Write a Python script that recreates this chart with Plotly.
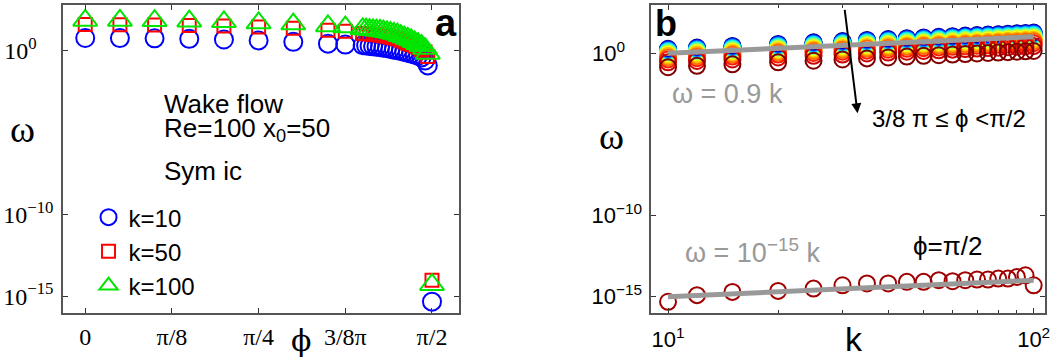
import numpy as np
import plotly.graph_objects as go

# ---------------- data: panel a (omega vs phi) ----------------
phi_a_frac = [0, 0.05, 0.10, 0.15, 0.20, 0.25, 0.30, 0.35, 0.375,
              0.400, 0.405, 0.410, 0.415, 0.420, 0.425, 0.430, 0.435, 0.440, 0.445,
              0.450, 0.455, 0.460, 0.465, 0.470, 0.475, 0.480, 0.485, 0.490, 0.494,
              0.5]
omega_a_k10 = [6.2, 6.1, 5.9, 5.5, 5.0, 4.4, 3.6, 2.8, 2.45,
               2.24, 2.14, 2.04, 1.91, 1.82, 1.70, 1.58, 1.45, 1.32, 1.20,
               1.10, 0.98, 0.87, 0.78, 0.69, 0.60, 0.51, 0.40, 0.26, 0.13,
               4.6e-16]
omega_a_k50 = [41, 40, 39, 36, 33, 29, 24, 18.6, 16.2,
               11.7, 11.2, 10.7, 10.2, 9.8, 9.3, 8.5, 7.8, 6.9, 6.2,
               5.5, 4.5, 3.7, 3.0, 2.5, 2.0, 1.6, 1.23, 0.85, 0.45,
               9.4e-15]
omega_a_k100 = [74, 73, 71, 66, 60, 52, 44, 34, 29,
                22.4, 21.4, 20.4, 19.5, 18.6, 17.8, 16.2, 14.8, 13.2, 11.7,
                10.5, 8.5, 7.1, 5.8, 4.7, 3.6, 2.8, 2.1, 1.4, 0.7,
                5.0e-15]
legend_names = ["k=10", "k=50", "k=100"]
phi_tick_frac = [0, 0.125, 0.25, 0.375, 0.5]
phi_tick_text = ["0", "π/8", "π/4", "3/8π", "π/2"]

# ---------------- data: panel b (omega vs k) ----------------
k_b = [10, 12, 15, 20, 25, 30, 35, 40, 45, 50, 55, 60, 65, 70, 75, 80, 85, 90, 95, 100]
# one row per phi in [3/8 pi, pi/2), from phi = 3/8 pi (top) downwards
omega_b_rows = [
    [1.91, 2.30, 2.87, 3.83, 4.79, 5.74, 6.70, 7.66, 8.61, 9.57, 10.5, 11.5, 12.4, 13.4, 14.4, 15.3, 16.3, 17.2, 18.2, 19.1],
    [1.78, 2.14, 2.67, 3.57, 4.46, 5.35, 6.24, 7.13, 8.02, 8.92, 9.81, 10.7, 11.6, 12.5, 13.4, 14.3, 15.2, 16.0, 16.9, 17.8],
    [1.65, 1.98, 2.48, 3.30, 4.13, 4.96, 5.78, 6.61, 7.43, 8.26, 9.09, 9.91, 10.7, 11.6, 12.4, 13.2, 14.0, 14.9, 15.7, 16.5],
    [1.52, 1.82, 2.28, 3.04, 3.80, 4.56, 5.32, 6.08, 6.84, 7.60, 8.35, 9.11, 9.87, 10.6, 11.4, 12.2, 12.9, 13.7, 14.4, 15.2],
    [1.39, 1.66, 2.08, 2.77, 3.46, 4.16, 4.85, 5.54, 6.23, 6.93, 7.62, 8.31, 9.00, 9.70, 10.4, 11.1, 11.8, 12.5, 13.2, 13.9],
    [1.25, 1.50, 1.87, 2.50, 3.12, 3.75, 4.37, 5.00, 5.62, 6.25, 6.87, 7.49, 8.12, 8.74, 9.37, 9.99, 10.6, 11.2, 11.9, 12.5],
    [1.11, 1.34, 1.67, 2.23, 2.78, 3.34, 3.90, 4.45, 5.01, 5.57, 6.12, 6.68, 7.23, 7.79, 8.35, 8.90, 9.46, 10.0, 10.6, 11.1],
    [0.98, 1.17, 1.46, 1.95, 2.44, 2.93, 3.42, 3.90, 4.39, 4.88, 5.37, 5.86, 6.34, 6.83, 7.32, 7.81, 8.30, 8.78, 9.27, 9.76],
    [0.84, 1.01, 1.26, 1.68, 2.10, 2.51, 2.93, 3.35, 3.77, 4.19, 4.61, 5.03, 5.45, 5.87, 6.29, 6.70, 7.12, 7.54, 7.96, 8.38],
    [0.70, 0.84, 1.05, 1.40, 1.75, 2.10, 2.45, 2.80, 3.15, 3.50, 3.84, 4.19, 4.54, 4.89, 5.24, 5.59, 5.94, 6.29, 6.64, 6.99],
    [0.56, 0.67, 0.84, 1.12, 1.40, 1.68, 1.96, 2.24, 2.52, 2.80, 3.08, 3.36, 3.64, 3.92, 4.20, 4.48, 4.76, 5.04, 5.32, 5.60],
    [0.42, 0.50, 0.63, 0.84, 1.05, 1.26, 1.47, 1.68, 1.89, 2.10, 2.31, 2.52, 2.73, 2.94, 3.15, 3.36, 3.57, 3.78, 3.99, 4.20],
    [0.28, 0.34, 0.42, 0.56, 0.70, 0.84, 0.98, 1.12, 1.26, 1.41, 1.55, 1.69, 1.83, 1.97, 2.11, 2.25, 2.39, 2.53, 2.67, 2.81],
    [0.14, 0.17, 0.21, 0.28, 0.35, 0.42, 0.49, 0.56, 0.63, 0.70, 0.77, 0.84, 0.91, 0.98, 1.05, 1.12, 1.19, 1.26, 1.33, 1.40],
]
omega_b_half_pi = [4.9e-16, 1.26e-15, 2.0e-15, 2.3e-15, 3.2e-15, 5.1e-15, 6.6e-15, 6.6e-15, 8.3e-15, 8.3e-15,
                   1.05e-14, 9.1e-15, 1.05e-14, 1.15e-14, 1.15e-14, 1.32e-14, 1.32e-14, 1.66e-14, 2.1e-14, 5.1e-15]
k_fit = [10, 100]
omega_fit_upper = [1.0, 10.5]
omega_fit_lower = [1.0e-15, 1.05e-14]
k_major_ticks = [10, 100]
k_minor_ticks = [20, 30, 40, 50, 60, 70, 80, 90]
omega_ticks = [1, 1e-10, 1e-15]

# ---------------- styles ----------------
SERIF = "Liberation Serif, Times New Roman, serif"
SANS = "Liberation Sans, Arial, Helvetica, sans-serif"
AXC = "#555555"
GRAY = "#999999"


def jet(t):
    r = min(max(1.5 - abs(4 * t - 3), 0), 1)
    g = min(max(1.5 - abs(4 * t - 2), 0), 1)
    b = min(max(1.5 - abs(4 * t - 1), 0), 1)
    return "rgb(%d,%d,%d)" % (round(255 * r), round(255 * g), round(255 * b))


fig = go.Figure()

phi_a = [f * np.pi for f in phi_a_frac]
series_a = [
    (omega_a_k10, "circle-open", 18, "#0000ff"),
    (omega_a_k50, "square-open", 13, "#ff0000"),
    (omega_a_k100, "triangle-up-open", 21, "#00e600"),
]
for (vals, sym, sz, col), name in zip(series_a, legend_names):
    fig.add_trace(go.Scatter(
        x=phi_a, y=vals, mode="markers", name=name,
        marker=dict(symbol=sym, size=sz, color=col, line=dict(color=col, width=2)),
        xaxis="x", yaxis="y", showlegend=True))

nrows = len(omega_b_rows)
for i, row in enumerate(omega_b_rows):
    col = jet(i / (nrows - 1))
    fig.add_trace(go.Scatter(
        x=k_b, y=row, mode="markers",
        marker=dict(symbol="circle-open", size=16, color=col, line=dict(color=col, width=2)),
        xaxis="x2", yaxis="y2", showlegend=False))
fig.add_trace(go.Scatter(
    x=k_b, y=omega_b_half_pi, mode="markers",
    marker=dict(symbol="circle-open", size=16, color="#a00000", line=dict(color="#a00000", width=2)),
    xaxis="x2", yaxis="y2", showlegend=False))
for fit in (omega_fit_upper, omega_fit_lower):
    fig.add_trace(go.Scatter(
        x=k_fit, y=fit, mode="lines", line=dict(color=GRAY, width=5),
        xaxis="x2", yaxis="y2", showlegend=False))

common_axis = dict(showline=True, linecolor=AXC, linewidth=1.5, mirror="ticks",
                   ticks="inside", ticklen=5, tickcolor="#333", tickwidth=1,
                   showgrid=False, zeroline=False, ticklabeloverflow="allow")

pad = "\u2007\u2007"
fig.update_layout(
    width=1053, height=358,
    margin=dict(l=63, r=5, t=3, b=45),
    paper_bgcolor="white", plot_bgcolor="white",
    xaxis=dict(domain=[0, 0.403], range=[-0.1007, 1.692],
               tickvals=[f * np.pi for f in phi_tick_frac], ticktext=phi_tick_text,
               tickfont=dict(family=SERIF, size=24, color="black"),
               ticklabelstandoff=1, anchor="y", **common_axis),
    yaxis=dict(type="log", range=[-16.03, 2.81], tickvals=omega_ticks,
               ticktext=["10<sup>0" + pad + "</sup>", "10<sup>−10</sup>", "10<sup>−15</sup>"],
               tickfont=dict(family=SERIF, size=24, color="black"),
               ticklabelstandoff=3, anchor="x", **common_axis),
    xaxis2=dict(type="log", domain=[0.599, 1], range=[0.954, 2.031],
                tickvals=k_major_ticks, ticktext=["10<sup>1</sup>", "10<sup>2</sup>"],
                tickfont=dict(family=SANS, size=22, color="black"),
                minor=dict(tickvals=k_minor_ticks, ticks="inside", ticklen=3, tickcolor="#333"),
                ticklabelstandoff=6, anchor="y2", **common_axis),
    yaxis2=dict(type="log", range=[-16.0, 2.98], tickvals=omega_ticks,
                ticktext=["10<sup>0" + pad + "</sup>", "10<sup>−10</sup>", "10<sup>−15</sup>"],
                tickfont=dict(family=SANS, size=22, color="black"),
                ticklabelstandoff=3, anchor="x2", **common_axis),
    legend=dict(x=0.026, y=0.383, xanchor="left", yanchor="top",
                font=dict(family=SANS, size=24, color="black"),
                bgcolor="rgba(0,0,0,0)", borderwidth=0, itemsizing="trace"),
    showlegend=True,
)


def txt(text, x, y, size, family=SANS, color="black", xanchor="center", yanchor="middle"):
    return dict(text=text, x=x, y=y, xref="paper", yref="paper", showarrow=False,
                font=dict(family=family, size=size, color=color),
                xanchor=xanchor, yanchor=yanchor)


anns = [
    txt("<b>a</b>", 0.3898, 0.94, 38),
    txt("<b>b</b>", 0.614, 0.939, 36),
    txt("Wake flow", 0.1005, 0.677, 26, xanchor="left"),
    txt("Re=100 x<sub>0</sub>=50", 0.1005, 0.596, 26, xanchor="left"),
    txt("Sym ic", 0.1005, 0.461, 26, xanchor="left"),
    txt("ω", -0.0416, 0.598, 38, family=SERIF),
    txt("ϕ", 0.2426, -0.09, 30, family="DejaVu Serif, serif"),
    txt("ω", 0.5584, 0.576, 38, family=SERIF),
    txt("k", 0.805, -0.083, 34),
    txt("ω = 0.9 k", 0.618, 0.71, 27, color=GRAY, xanchor="left"),
    txt("ω = 10<sup>−15</sup> k", 0.6315, 0.2, 27, color=GRAY, xanchor="left"),
    txt("ϕ=π/2", 0.9005, 0.219, 26),
    txt("3/8 π ≤ ϕ <π/2", 0.8223, 0.632, 24, xanchor="left"),
    dict(text="", x=0.8091, y=0.6484, xref="paper", yref="paper", showarrow=True,
         ax=-13, ay=-105, arrowhead=2, arrowsize=1, arrowwidth=2, arrowcolor="black"),
]
fig.update_layout(annotations=anns)

fig.write_html("out.html", config={"displayModeBar": False},
               post_script="document.body.style.margin='0';document.body.style.padding='0';")
